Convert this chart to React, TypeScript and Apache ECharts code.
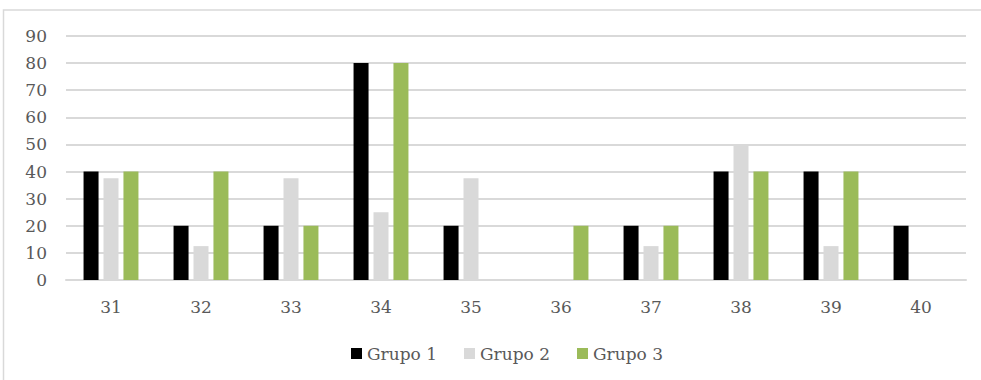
import React, { useEffect, useRef } from "react";
import * as echarts from "echarts";

const categories = ["31", "32", "33", "34", "35", "36", "37", "38", "39", "40"];
const grupo1 = [40, 20, 20, 80, 20, 0, 20, 40, 40, 20];
const grupo2 = [37.5, 12.5, 37.5, 25, 37.5, 0, 12.5, 50, 12.5, 0];
const grupo3 = [40, 40, 20, 80, 0, 20, 20, 40, 40, 0];
const seriesNames = ["Grupo 1", "Grupo 2", "Grupo 3"];
const seriesColors = ["#000000", "#d9d9d9", "#9bbb59"];

const FONT = "DejaVu Serif";
const TEXT = "#595959";

export default function App() {
  const ref = useRef<HTMLDivElement>(null);
  useEffect(() => {
    if (!ref.current) return;
    const chart = echarts.init(ref.current, undefined, { renderer: "svg" });
    const data = [grupo1, grupo2, grupo3];
    chart.setOption({
      animation: false,
      backgroundColor: "#ffffff",
      grid: { left: 66, right: 15, top: 36, bottom: 100, containLabel: false },
      legend: {
        left: 346,
        top: 340,
        itemWidth: 11,
        itemHeight: 11,
        itemGap: 27,
        icon: "rect",
        textStyle: { fontFamily: FONT, fontSize: 17, color: TEXT },
        data: seriesNames,
      },
      xAxis: {
        type: "category",
        data: categories,
        axisLine: { show: true, lineStyle: { color: "#d9d9d9", width: 2 } },
        axisTick: { show: false },
        axisLabel: { fontFamily: FONT, fontSize: 17, color: TEXT, margin: 18 },
      },
      yAxis: {
        type: "value",
        min: 0,
        max: 90,
        interval: 10,
        axisLine: { show: false },
        axisTick: { show: false },
        splitLine: { lineStyle: { color: "#d9d9d9", width: 2 } },
        axisLabel: { fontFamily: FONT, fontSize: 17, color: TEXT, margin: 19 },
      },
      graphic: [
        {
          type: "rect",
          shape: { x: 3.5, y: 10, width: 1100, height: 500 },
          style: { fill: "none", stroke: "#d9d9d9", lineWidth: 1.5 },
          silent: true,
          z: -1,
        },
      ],
      series: seriesNames.map((name, i) => ({
        name,
        type: "bar",
        data: data[i],
        barWidth: 15,
        barGap: "33%",
        itemStyle: { color: seriesColors[i] },
      })),
    });
    return () => chart.dispose();
  }, []);
  return (
    <div
      ref={ref}
      style={{ position: "fixed", left: 0, top: 0, width: 981, height: 380 }}
    />
  );
}
